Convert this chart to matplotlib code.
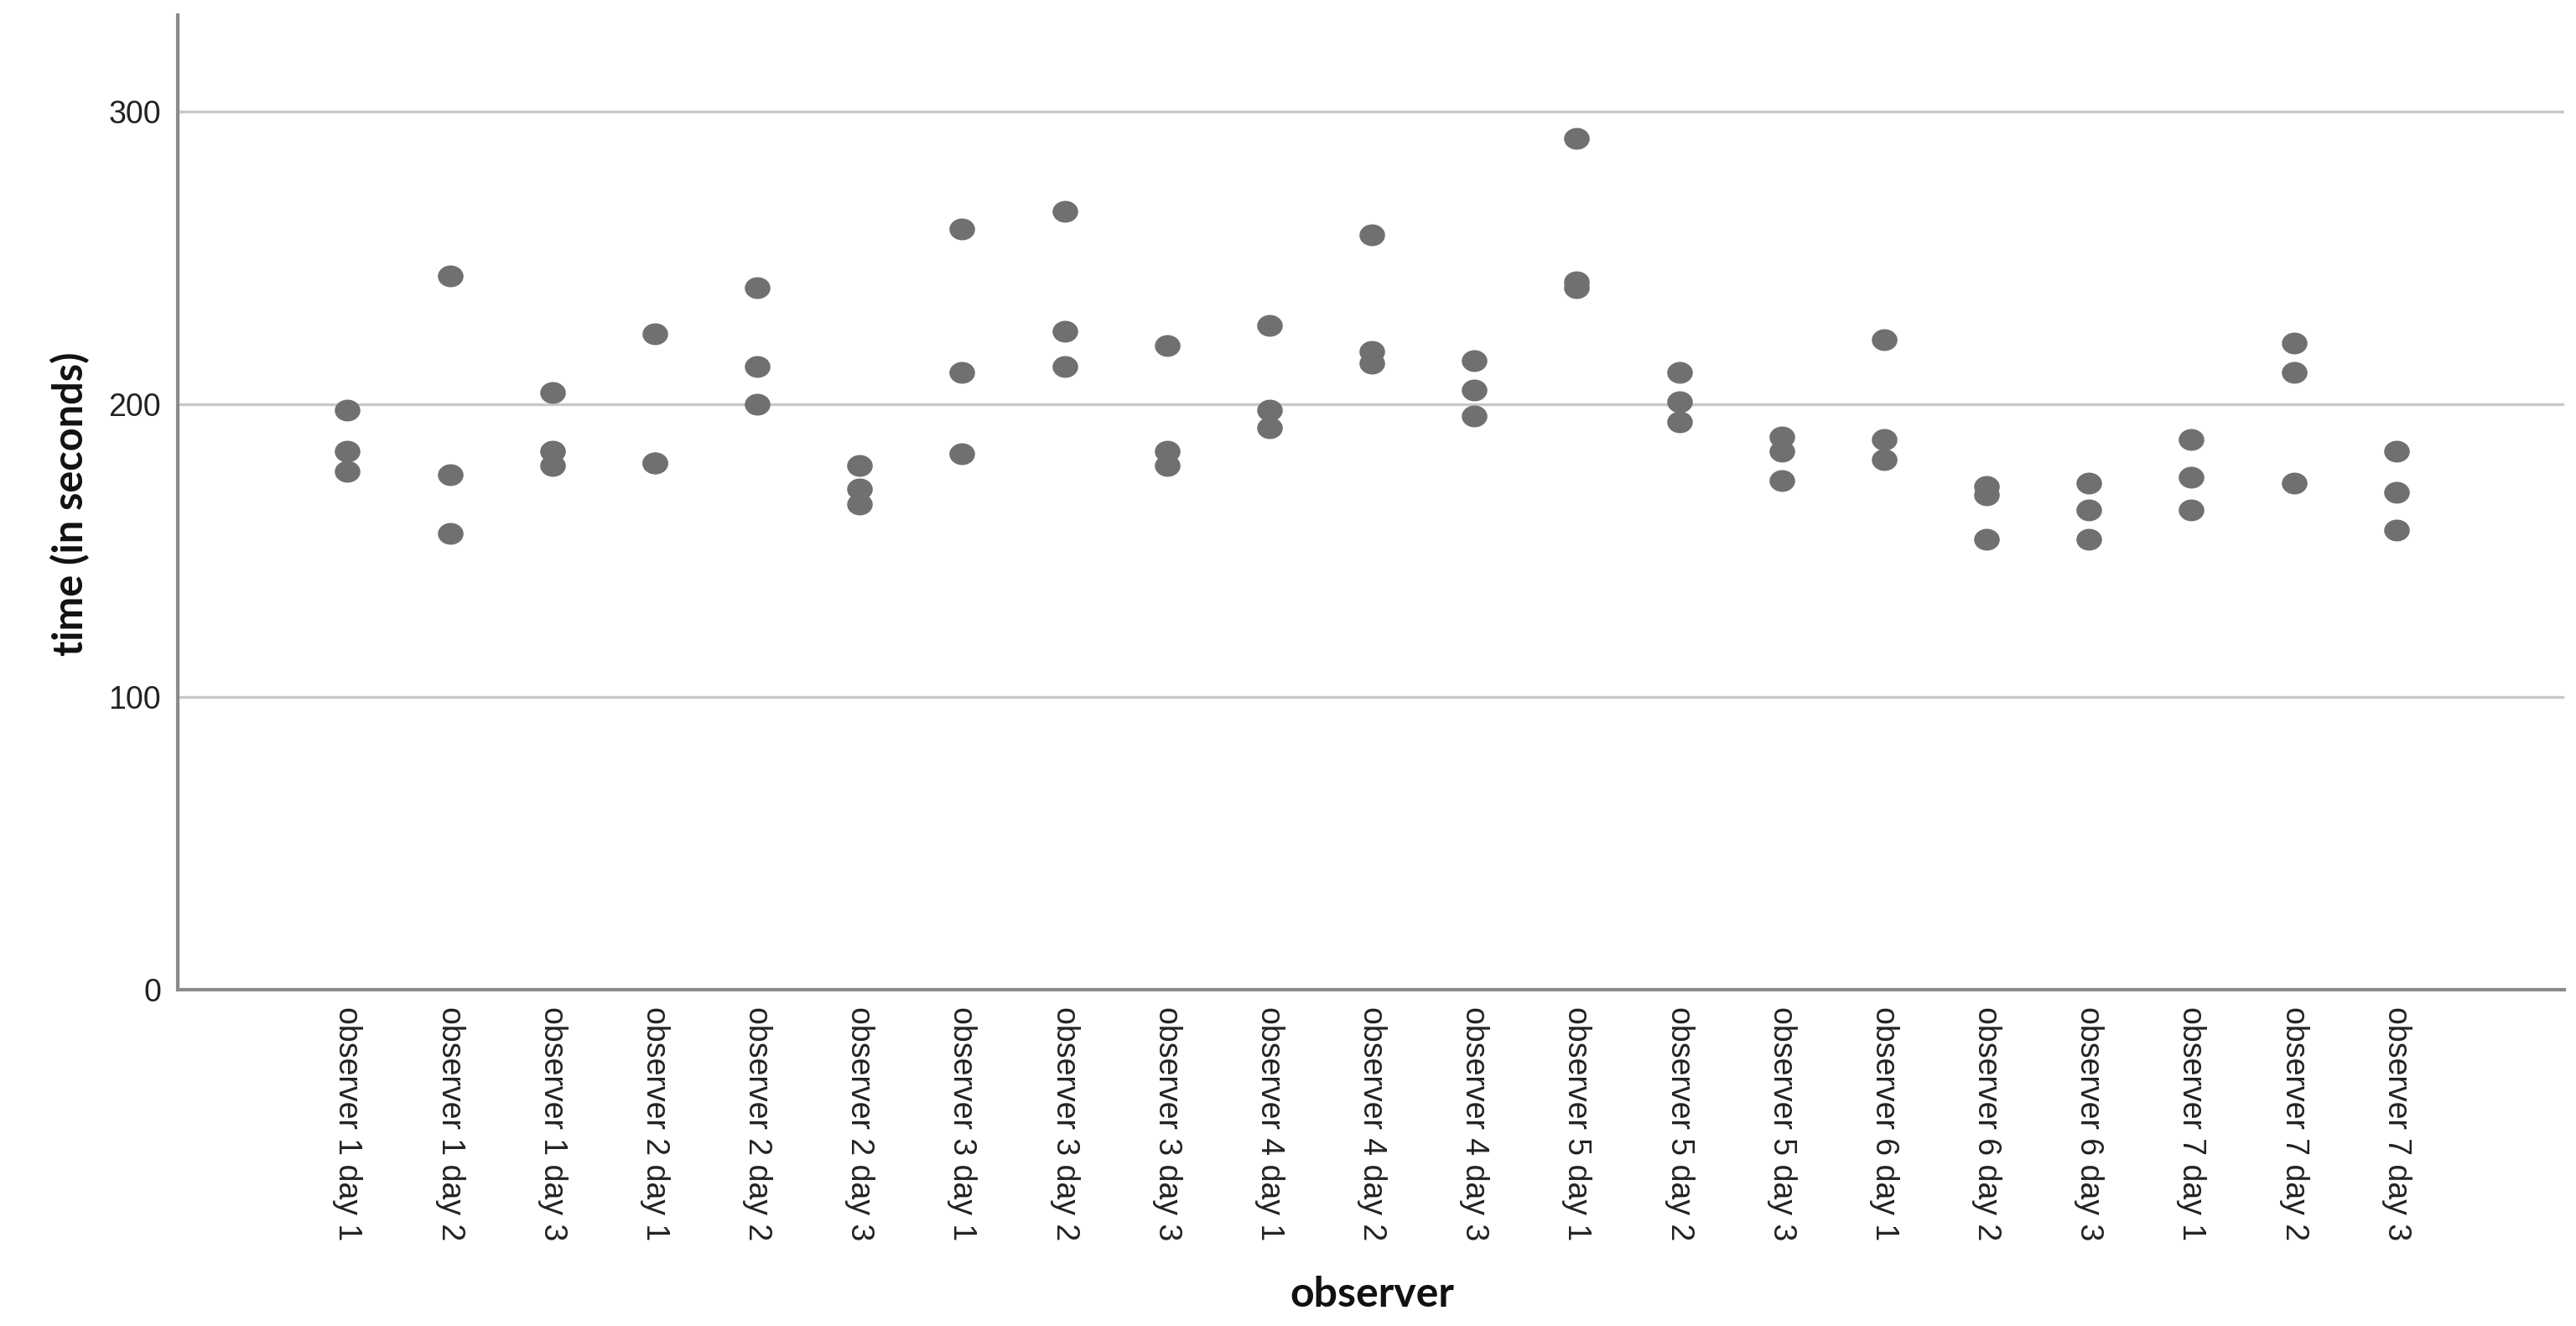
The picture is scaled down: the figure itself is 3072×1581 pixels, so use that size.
import numpy as np
import matplotlib
matplotlib.use("Agg")
import matplotlib.pyplot as plt

categories = [
    "observer 1 day 1", "observer 1 day 2", "observer 1 day 3",
    "observer 2 day 1", "observer 2 day 2", "observer 2 day 3",
    "observer 3 day 1", "observer 3 day 2", "observer 3 day 3",
    "observer 4 day 1", "observer 4 day 2", "observer 4 day 3",
    "observer 5 day 1", "observer 5 day 2", "observer 5 day 3",
    "observer 6 day 1", "observer 6 day 2", "observer 6 day 3",
    "observer 7 day 1", "observer 7 day 2", "observer 7 day 3",
]

measurement_1 = [198, 244, 204, 224, 240, 179, 260, 266, 220, 227, 258, 215, 291, 211, 189, 222, 172, 173, 188, 221, 184]
measurement_2 = [184, 176, 184, 180, 213, 171, 211, 225, 184, 198, 218, 205, 242, 201, 184, 188, 169, 164, 175, 211, 170]
measurement_3 = [177, 156, 179, 180, 200, 166, 183, 213, 179, 192, 214, 196, 240, 194, 174, 181, 154, 154, 164, 173, 157]

y_ticks = [0, 100, 200, 300]

fig = plt.figure(figsize=(30.72, 15.81), dpi=100)
ax = fig.add_axes([0.0689, 0.2536, 0.9266, 0.735])

theta = np.linspace(0, 2 * np.pi, 60)
ellipse = np.column_stack([np.cos(theta), 0.85 * np.sin(theta)])

x = np.arange(len(categories))
for series in (measurement_1, measurement_2, measurement_3):
    ax.plot(x, series, linestyle="none", marker=ellipse, markersize=22,
            color="#707070", markeredgewidth=0, zorder=3)

ax.set_xlim(-1.66, len(categories) - 1 + 1.64)
ax.set_ylim(0, 333)
ax.set_yticks(y_ticks)
ax.set_yticklabels([str(t) for t in y_ticks], fontsize=27, family="Liberation Sans", color="#222222")
ax.set_xticks(x)
ax.set_xticklabels(categories, rotation=-90, fontsize=27, family="Liberation Sans",
                   color="#222222", va="top", ha="center")

ax.tick_params(axis="both", length=0)
ax.tick_params(axis="y", pad=14)
ax.tick_params(axis="x", pad=14)

ax.grid(axis="y", color="#c8c8c8", linewidth=2.4, zorder=0)
ax.set_axisbelow(True)
for side in ("top", "right"):
    ax.spines[side].set_visible(False)
for side in ("left", "bottom"):
    ax.spines[side].set_color("#8a8a8a")
    ax.spines[side].set_linewidth(3)

fig.text(0.0272, 1 - 601 / 1581, "time (in seconds)", rotation=90, ha="center", va="center",
         fontsize=35, fontweight="bold", family="Lato", color="#111111")
fig.text(1636 / 3072, 1 - 1543 / 1581, "observer", ha="center", va="center",
         fontsize=36, fontweight="bold", family="Lato", color="#111111")

fig.savefig("out.png", dpi=100, facecolor="white")
